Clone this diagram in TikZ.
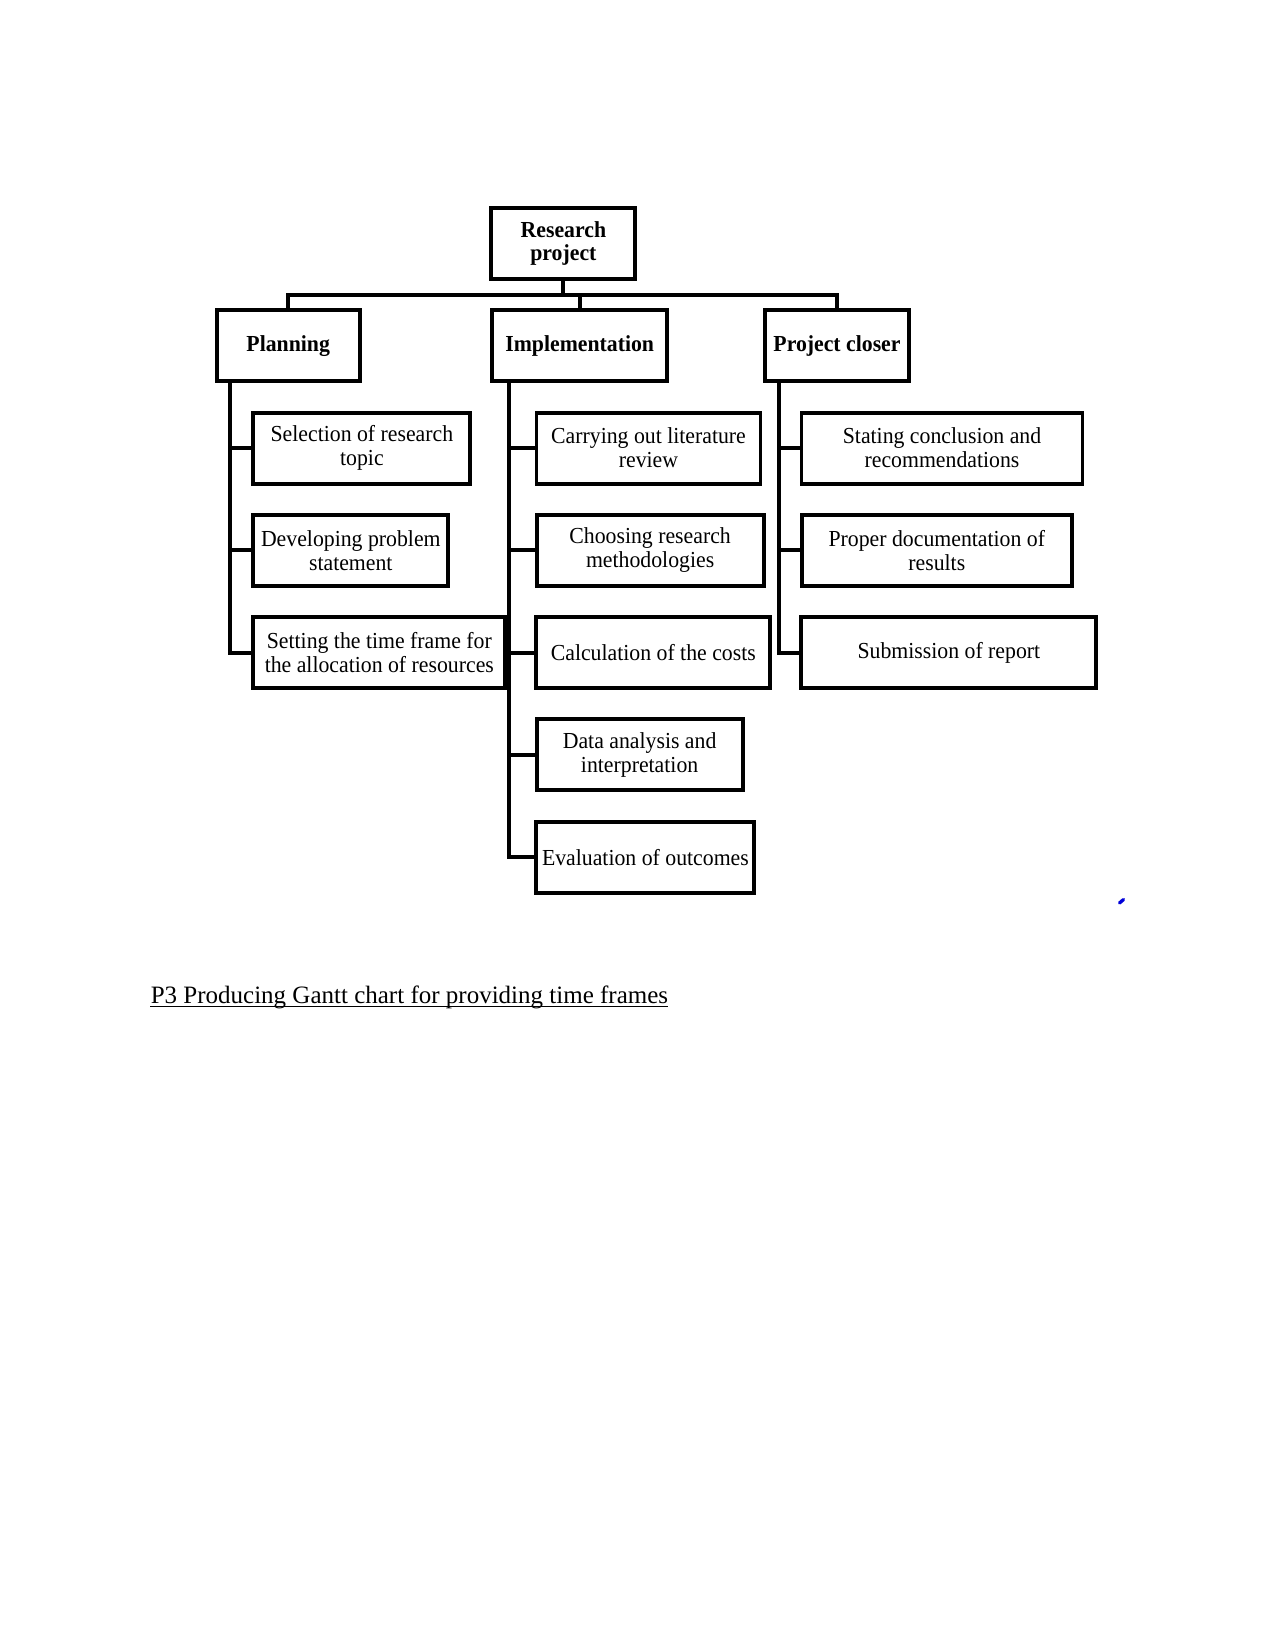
\documentclass[tikz,border=0pt]{standalone}
\usepackage{fontspec}
\usetikzlibrary{calc}
\newfontfamily\diagfont[FakeStretch=0.95]{Liberation Serif}
\newfontfamily\ganttfont{Liberation Serif}
\newcommand\diagrm{\diagfont\fontsize{11}{11.5}\selectfont}
\newcommand\diagbf{\diagfont\bfseries\fontsize{11}{11.5}\selectfont}
\def\px{0.48pt}
\tikzset{
  box/.style={draw, line width=1.9pt, inner sep=0pt, align=center, font=\diagrm, minimum height=71*\px},
  lone/.style={box, font=\diagbf},
  conn/.style={line width=1.9pt}
}
\begin{document}
\begin{tikzpicture}[x=0.48pt, y=-0.48pt]
\path[use as bounding box] (0,0) rectangle (1275,1650);
% root
\node[lone, minimum width=144*\px] (res) at (563.4,243.5) {Research\\project};
% level 1
\node[lone, minimum width=143*\px] (plan) at (288.2,345.6) {Planning};
\node[lone, minimum width=175*\px] (impl) at (579.7,345.6) {Implementation};
\node[lone, minimum width=144*\px] (clos) at (837,345.6) {Project closer};
% bus
\coordinate (bus) at (563.4,294.6);
\draw[conn] (res.south) -- (bus);
\draw[conn] (plan.north) |- (bus) -| (clos.north);
\draw[conn] (impl.north) -- (impl.north |- bus);
% planning children
\node[box, minimum width=217*\px] (sel) at (361.9,448.1) {Selection of research\\topic};
\node[box, minimum width=195*\px] (dev) at (350.8,550.2) {Developing problem\\statement};
\node[box, minimum width=252*\px] (set) at (379.3,652.8) {Setting the time frame for\\the allocation of resources};
% implementation children
\node[box, minimum width=224*\px] (car) at (648.5,448.1) {Carrying out literature\\review};
\node[box, minimum width=227*\px] (cho) at (650.1,550.2) {Choosing research\\methodologies};
\node[box, minimum width=234*\px] (cal) at (653.3,652.8) {Calculation of the costs};
\node[box, minimum width=206*\px] (dat) at (639.6,754.8) {Data analysis and\\interpretation};
\node[box, minimum width=218*\px] (eva) at (645.4,857.4) {Evaluation of outcomes};
% closer children
\node[box, minimum width=281*\px] (sta) at (942,448.1) {Stating conclusion and\\recommendations};
\node[box, minimum width=270*\px] (pro) at (936.8,550.2) {Proper documentation of\\results};
\node[box, minimum width=295*\px] (sub) at (948.9,652.8) {Submission of report};
% trunks
\coordinate (ptop) at ($(plan.south west)+(15.7,0)$);
\coordinate (itop) at ($(impl.south west)+(18.9,0)$);
\coordinate (ctop) at ($(clos.south west)+(15.7,0)$);
\draw[conn] (ptop) |- (set.west);
\draw[conn] (ptop |- sel.west) -- (sel.west);
\draw[conn] (ptop |- dev.west) -- (dev.west);
\draw[conn] (itop) |- (eva.west);
\draw[conn] (itop |- car.west) -- (car.west);
\draw[conn] (itop |- cho.west) -- (cho.west);
\draw[conn] (itop |- cal.west) -- (cal.west);
\draw[conn] (itop |- dat.west) -- (dat.west);
\draw[conn] (ctop) |- (sub.west);
\draw[conn] (ctop |- sta.west) -- (sta.west);
\draw[conn] (ctop |- pro.west) -- (pro.west);
% small blue mark
\draw[blue!85!black, line width=1.6pt, line cap=round] (1119.5,903) -- (1123.5,899.5);
% caption
\node[anchor=base west, inner sep=0pt, font=\ganttfont\fontsize{12}{14}\selectfont] (gantt) at (150.4,1003.6) {P3 Producing Gantt chart for providing time frames};
\draw[line width=0.6pt] ($(gantt.base west)+(0,3.2)$) -- ($(gantt.base east)+(0,3.2)$);
\end{tikzpicture}
\end{document}
